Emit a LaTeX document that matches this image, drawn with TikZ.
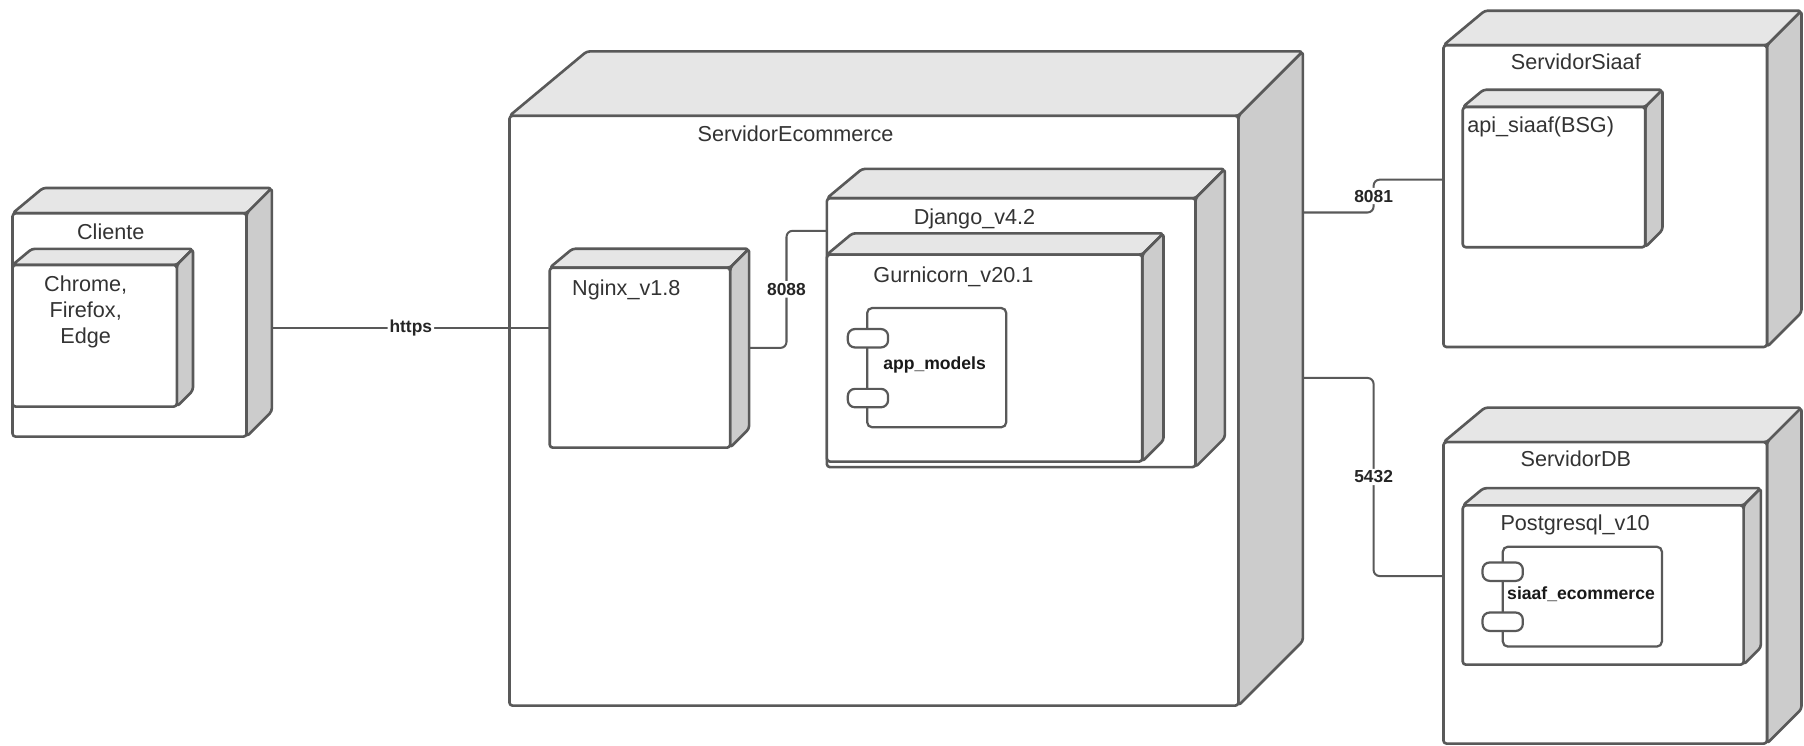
\documentclass[tikz,border=0pt]{standalone}
\usepackage{fontspec}
\setmainfont{Liberation Sans}
\usepackage{xcolor}
\usepackage{tikz}
\usetikzlibrary{fit}

\definecolor{edgegray}{HTML}{595959}
\definecolor{topgray}{HTML}{E6E6E6}
\definecolor{sidegray}{HTML}{CCCCCC}
\definecolor{textgray}{HTML}{333333}

\begin{document}
\begin{tikzpicture}[
        x=0.02cm, y=-0.02cm,
        face/.style={draw=edgegray, line width=1.3pt, line join=round, rounded corners=1.5pt},
        box3d/.style={face, fill=white, inner sep=0pt, outer sep=0pt,
            append after command={\pgfextra{\let\bx\tikzlastnode
                \draw[face, fill=topgray] (\bx.north west) -- ++(1.2*#1,-#1)
                    -- ([shift={(#1,-#1)}]\bx.north east) -- (\bx.north east) -- cycle;
                \draw[face, fill=sidegray] (\bx.north east) -- ++(#1,-#1)
                    -- ([shift={(#1,-#1)}]\bx.south east) -- (\bx.south east) -- cycle;}}},
        boxtitle/.style={text=textgray, font=\fontsize{10.7}{12.8}\selectfont, inner sep=0pt,
            text height=7.8pt, text depth=0pt},
        comp/.style={draw=edgegray, fill=white, line width=1.1pt, rounded corners=2.5pt,
            inner sep=0pt, outer sep=0pt},
        tab/.style={comp, rounded corners=3.5pt, minimum width=0.7cm, minimum height=0.32cm},
        compname/.style={font=\fontsize{8.7}{10}\selectfont\bfseries, text=black!90, inner sep=0pt},
        wire/.style={draw=edgegray, line width=1pt, rounded corners=3pt},
        port/.style={font=\fontsize{8.6}{10}\selectfont\bfseries, text=black!85, fill=white, inner sep=1pt}
    ]
    \useasboundingbox (0,0) rectangle (1568,648);

    % Cliente
    \node[box3d=22, fit={(10.9,185.4) (214.3,379.5)}] (cliente) {};
    \node[boxtitle] (cliente-t) at (96.3,201.3) {Cliente};
    \node[box3d=14, fit={(10.9,230.3) (153.7,353.4)}] (browser) {};
    \node[text=textgray, font=\fontsize{10.7}{12.8}\selectfont, align=center, inner sep=0pt]
        (browser-t) at (74.5,271.3) {Chrome,\\Firefox,\\Edge};

    % ServidorEcommerce
    \node[box3d=56, fit={(442.8,100.7) (1076.4,613.3)}] (ecom) {};
    \node[boxtitle] (ecom-t) at (691.5,115.8) {ServidorEcommerce};
    \node[box3d=16.5, fit={(477.8,232.7) (634.6,389.1)}] (nginx) {};
    \node[boxtitle] (nginx-t) at (544.4,249.6) {Nginx\_v1.8};
    \node[box3d=25.5, fit={(718.7,172.3) (1039.1,406)}] (django) {};
    \node[boxtitle] (django-t) at (847,188.6) {Django\_v4.2};
    \node[box3d=18.5, fit={(718.7,221.3) (992.8,401.2)}] (gunicorn) {};
    \node[boxtitle] (gunicorn-t) at (828.7,238.3) {Gurnicorn\_v20.1};
    \node[comp, fit={(753.7,267.7) (874.6,371.4)}] (appmodels) {};
    \node[tab] (appmodels-tab1) at (754.4,294) {};
    \node[tab] (appmodels-tab2) at (754.4,346) {};
    \node[compname] (appmodels-t) at (812.3,317.5) {app\_models};

    % ServidorSiaaf
    \node[box3d=30, fit={(1254.6,39.3) (1535.8,301.6)}] (siaaf) {};
    \node[boxtitle] (siaaf-t) at (1369.7,53.7) {ServidorSiaaf};
    \node[box3d=15, fit={(1271.4,93) (1430,214.9)}] (apisiaaf) {};
    \node[boxtitle, anchor=west] (apisiaaf-t) at (1275,108.3) {api\_siaaf(BSG)};

    % ServidorDB
    \node[box3d=30, fit={(1254.6,384.3) (1535.8,646.3)}] (db) {};
    \node[boxtitle] (db-t) at (1369.7,398.8) {ServidorDB};
    \node[box3d=15, fit={(1271.4,439.3) (1515.5,577.7)}] (postgres) {};
    \node[boxtitle] (postgres-t) at (1369,454.5) {Postgresql\_v10};
    \node[comp, fit={(1306.2,475.2) (1444.5,562)}] (siaafdb) {};
    \node[tab] (siaafdb-tab1) at (1306.1,496.9) {};
    \node[tab] (siaafdb-tab2) at (1306.1,540.4) {};
    \node[compname] (siaafdb-t) at (1374.2,516.5) {siaaf\_ecommerce};

    % conexiones
    \draw[wire] ([shift={(22,3)}]cliente.east) coordinate (cliente-out)
        -- node[port] {https} (cliente-out -| nginx.west);
    \draw[wire] ([shift={(16,-8.5)}]nginx.east) -- ++(33,0)
        |- node[port, pos=0.25] {8088} ([shift={(0,-88.5)}]django.west);
    \draw[wire] ([shift={(56,-172.3)}]ecom.east) -- ++(61.5,0)
        |- node[port, pos=0.25] {8081} ([shift={(0,-14.3)}]siaaf.west);
    \draw[wire] ([shift={(56,-28.5)}]ecom.east) -- ++(61.5,0)
        |- node[port, pos=0.25] {5432} ([shift={(0,-14.6)}]db.west);
\end{tikzpicture}
\end{document}
